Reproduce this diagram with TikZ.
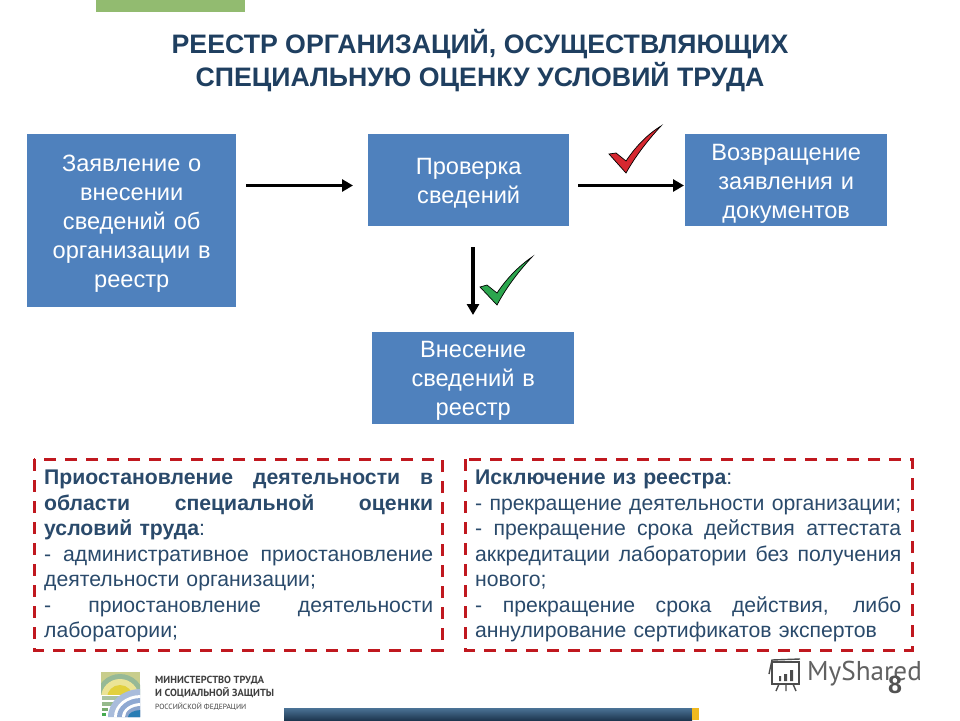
\documentclass[tikz,border=0pt]{standalone}
\usepackage{fontspec}
\setmainfont{Liberation Sans}
\newfontfamily\logofont{PT Sans}
\usetikzlibrary{arrows.meta}
\definecolor{boxblue}{HTML}{4F81BD}
\definecolor{titleblue}{HTML}{1F3F60}
\definecolor{bodyblue}{HTML}{2A4A6B}
\definecolor{dashred}{HTML}{C0181F}
\newcommand{\jl}[2]{\makebox[#1pt][s]{\spaceskip=.28em plus 1fil\relax #2}}
\newcommand{\topfix}{\rule{0pt}{23pt}}
\tikzset{
  flowbox/.style={fill=boxblue,text=white,align=center,inner sep=0pt,font=\fontsize{23.6}{29}\selectfont,anchor=north west},
  flowarrow/.style={line width=3.4pt,-{Triangle[length=11pt,width=12pt]},black},
  dashbox/.style={draw=dashred,line width=3pt,dash pattern=on 12pt off 9pt},
  bodytext/.style={anchor=north west,inner sep=0pt,align=left,text=bodyblue,font=\fontsize{21.2}{25.5}\selectfont},
  checkmark/.style={draw=black,line width=.7pt}
}
\begin{document}
\begin{tikzpicture}[x=1pt,y=-1pt]
\useasboundingbox (0,0) rectangle (960,720);
\fill[white] (0,0) rectangle (960,720);
% top bar
\fill[fill={rgb,255:red,146;green,187;blue,112}] (96,0) rectangle (245,12);
% title
\node[align=center,text=titleblue,font=\bfseries\fontsize{26.7}{33}\selectfont] (title) at (480,60.5) {РЕЕСТР ОРГАНИЗАЦИЙ, ОСУЩЕСТВЛЯЮЩИХ\\СПЕЦИАЛЬНУЮ ОЦЕНКУ УСЛОВИЙ ТРУДА};
% boxes
\node[flowbox,minimum width=209pt,minimum height=173pt,text width=195pt] (a) at (27,134) {\topfix Заявление о\\внесении\\сведений об\\организации в\\реестр};
\node[flowbox,minimum width=201pt,minimum height=92pt,text width=190pt] (b) at (368,134) {\topfix Проверка\\сведений};
\node[flowbox,minimum width=202pt,minimum height=92pt,text width=190pt] (c) at (685,134) {\topfix Возвращение\\заявления и\\документов};
\node[flowbox,minimum width=202pt,minimum height=92pt,text width=190pt] (d) at (372,332) {\rule{0pt}{21pt}Внесение\\сведений в\\реестр};
% connectors
\coordinate (a1) at (246,185.5);
\coordinate (a2) at (353,185.5);
\coordinate (b1) at (578,185.5);
\coordinate (b2) at (684,185.5);
\coordinate (c1) at (473,247);
\coordinate (c2) at (473,315);
\draw[flowarrow] (a1) -- (a2);
\draw[flowarrow] (b1) -- (b2);
\draw[flowarrow] (c1) -- (c2);
% check marks
\draw[checkmark,fill={rgb,255:red,214;green,40;blue,48}] (609,154) -- (616,153) -- (626,161) .. controls (636,146) and (648,134) .. (661,126) .. controls (647,141) and (635,157) .. (626,173) -- cycle;
\draw[checkmark,fill={rgb,255:red,44;green,166;blue,78}] (480,287) -- (487,285) -- (497,293) .. controls (507,278) and (519,266) .. (532,257) .. controls (518,272) and (506,288) .. (497,305) -- cycle;
% dashed boxes
\draw[dashbox] (34,459) rectangle (442,650);
\draw[dashbox] (465,459) rectangle (912,650);
\node[bodytext,text width=389pt] (lt) at (44,470) {\jl{389}{\bfseries Приостановление деятельности в}\\
\jl{389}{\bfseries области специальной оценки}\\
{\bfseries условий труда}:\\
\jl{389}{- административное приостановление}\\
деятельности организации;\\
\jl{389}{- приостановление деятельности}\\
лаборатории;};
\node[bodytext,text width=426pt] (rt) at (475,470) {{\bfseries Исключение из реестра}:\\
\jl{426}{- прекращение деятельности организации;}\\
\jl{426}{- прекращение срока действия аттестата}\\
\jl{426}{аккредитации лаборатории без получения}\\
нового;\\
\jl{426}{- прекращение срока действия, либо}\\
аннулирование сертификатов экспертов};
% ministry logo
\begin{scope}
\clip (101,672) rectangle (140,717);
\begin{scope}
\clip (101,672) rectangle (140,694);
\fill[fill={rgb,255:red,200;green,205;blue,140}] (101,672) rectangle (140,694);
\fill[fill={rgb,255:red,150;green,185;blue,150}] (120,698) circle (24pt);
\fill[fill={rgb,255:red,235;green,228;blue,150}] (120,698) circle (19pt);
\fill[fill={rgb,255:red,226;green,208;blue,60}] (120,698) circle (13pt);
\end{scope}
\fill[fill={rgb,255:red,170;green,195;blue,160}] (102,696) rectangle (120,700);
\fill[fill={rgb,255:red,150;green,185;blue,140}] (102,702) rectangle (114,706);
\fill[fill={rgb,255:red,120;green,170;blue,110}] (102,708) rectangle (108,711);
\fill[fill={rgb,255:red,70;green,170;blue,80}] (102,713) rectangle (106,716);
\fill[fill={rgb,255:red,169;green,188;blue,219}] (108,717) arc (180:90:33pt and 28pt) -- (141,717) -- cycle;
\fill[white] (114,717) arc (180:90:27pt and 22pt) -- (141,717) -- cycle;
\fill[fill={rgb,255:red,143;green,169;blue,210}] (117,717) arc (180:90:24pt and 19pt) -- (141,717) -- cycle;
\fill[white] (122,717) arc (180:90:19pt and 14pt) -- (141,717) -- cycle;
\fill[fill={rgb,255:red,140;green,165;blue,205}] (125,717) arc (180:90:16pt and 11pt) -- (141,717) -- cycle;
\fill[fill={rgb,255:red,40;green,125;blue,180}] (128,717) arc (180:90:13pt and 7pt) -- (141,717) -- cycle;
\end{scope}
\node[anchor=north west,inner sep=0pt,align=left,text=black!75,font=\logofont\bfseries\fontsize{10.3}{13}\selectfont] (logo) at (155,676) {МИНИСТЕРСТВО ТРУДА\\И СОЦИАЛЬНОЙ ЗАЩИТЫ\\{\mdseries\fontsize{7.5}{12}\selectfont РОССИЙСКОЙ ФЕДЕРАЦИИ}};
% bottom bar
\shade[top color={rgb,255:red,75;green,115;blue,150},bottom color={rgb,255:red,30;green,55;blue,80}] (284,708) rectangle (692,720);
\fill[fill={rgb,255:red,240;green,185;blue,30}] (692,708) rectangle (699,720);
% watermark
\begin{scope}[draw=black!70,line width=1.4pt]
\draw (772,662) rectangle (799,684);
\draw (769,674) -- (772,660) -- (800,659);
\draw (779,684) -- (776,691) (786,684) -- (786,691) (793,684) -- (796,691);
\fill[black!70] (779,676) rectangle (781,681) (784,674) rectangle (787,681) (790,670) rectangle (793,681);
\end{scope}
\node[anchor=west,inner sep=0pt,text=black!62,font=\logofont\fontsize{27.2}{29}\selectfont] (ms) at (807,674) {MyShared};
\node[inner sep=0pt,text=black!68,font=\bfseries\fontsize{25}{27}\selectfont] (pg) at (895,685) {8};
\end{tikzpicture}
\end{document}
